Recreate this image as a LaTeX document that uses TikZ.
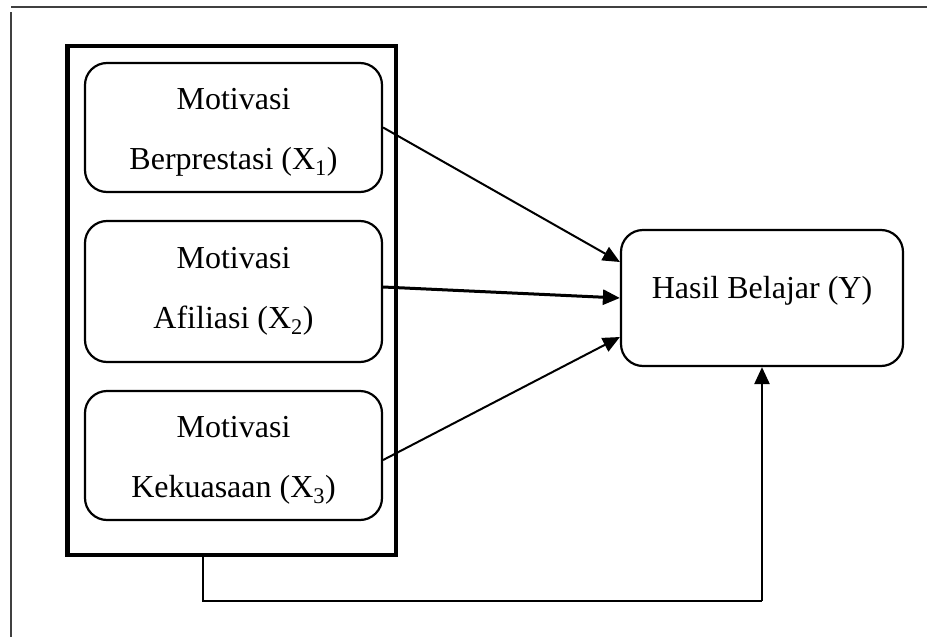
\documentclass[tikz,border=0pt]{standalone}
\usepackage{fontspec}
\setmainfont{Liberation Serif}
\usetikzlibrary{arrows.meta}
\begin{document}
\begin{tikzpicture}[x=1pt,y=-1pt,
  mbox/.style={draw,line width=2.2pt,rounded corners=22pt,minimum width=297pt,
    align=center,inner sep=0pt,font=\fontsize{32}{60}\selectfont},
  ybox/.style={draw,line width=2.2pt,rounded corners=22pt,minimum width=282pt,
    minimum height=136pt,inner sep=0pt,text height=22pt,text depth=22pt,
    font=\fontsize{32}{38}\selectfont},
  arr/.style={-{Triangle[length=17pt,width=15pt]},line width=2pt},
  edgeline/.style={line width=1.6pt,black!75}]
\useasboundingbox (0,0) rectangle (927,637);
\coordinate (ft1) at (11,7);
\coordinate (ft2) at (927,7);
\coordinate (fl1) at (11,12);
\coordinate (fl2) at (11,637);
\draw[edgeline] (ft1) -- (ft2);
\draw[edgeline] (fl1) -- (fl2);
\node[draw,line width=4.5pt,minimum width=328.5pt,minimum height=509pt,inner sep=0pt] (frame) at (231.75,300.5) {};
\node[mbox,minimum height=129pt] (b1) at (233.5,127.5) {\rule{0pt}{31pt}Motivasi\\Berprestasi (X\textsubscript{1})};
\node[mbox,minimum height=141pt] (b2) at (233.5,291.5) {Motivasi\\Afiliasi (X\textsubscript{2})};
\node[mbox,minimum height=129pt] (b3) at (233.5,455.5) {\rule{0pt}{31pt}Motivasi\\Kekuasaan (X\textsubscript{3})};
\node[ybox] (y) at (762,298) {Hasil Belajar (Y)};
\draw[arr] (b1.east) -- ([yshift=36pt]y.west);
\draw[arr,line width=3pt] ([yshift=4.5pt]b2.east) -- (y.west);
\draw[arr] ([yshift=-4.5pt]b3.east) -- ([yshift=-39pt]y.west);
\coordinate (c1) at (203,601);
\draw[line width=1.4pt] (frame.south -| c1) -- (c1) -- (c1 -| y.south);
\draw[arr,line width=2.4pt] (c1 -| y.south) -- (y.south);
\end{tikzpicture}
\end{document}
